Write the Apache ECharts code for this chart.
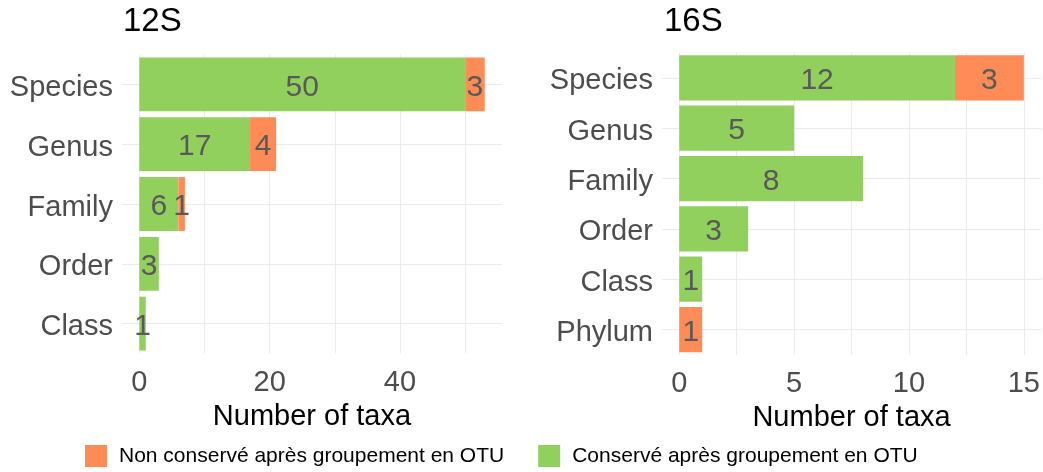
<!DOCTYPE html>
<html>
<head>
<meta charset="utf-8">
<script src="https://cdn.jsdelivr.net/npm/echarts@6/dist/echarts.min.js"></script>
<style>
  html, body { margin: 0; padding: 0; background: #fff; }
  #main { width: 1043px; height: 472px; }
</style>
</head>
<body>
<div id="main"></div>
<script>
// data
const taxa12S = ['Species', 'Genus', 'Family', 'Order', 'Class'];
const kept12S = [50, 17, 6, 3, 1];
const lost12S = [3, 4, 1, 0, 0];

const taxa16S = ['Species', 'Genus', 'Family', 'Order', 'Class', 'Phylum'];
const kept16S = [12, 5, 8, 3, 1, 0];
const lost16S = [3, 0, 0, 0, 0, 1];

const grid12STicks = [0, 10, 20, 30, 40, 50];
const label12STicks = [0, 20, 40];
const grid16STicks = [0, 2.5, 5, 7.5, 10, 12.5, 15];
const label16STicks = [0, 5, 10, 15];

const keptName = 'Conservé après groupement en OTU';
const lostName = 'Non conservé après groupement en OTU';

const GREEN = '#92D05E';
const ORANGE = '#FF8C57';
const FONT = 'Liberation Sans, Arial, sans-serif';
const gridColor = '#ebebeb';

const chart = echarts.init(document.getElementById('main'));

function xAxisFor(gridIndex, min, max, gridTicks, labelTicks) {
    return {
        type: 'value',
        gridIndex: gridIndex,
        min: min,
        max: max,
        name: 'Number of taxa',
        nameLocation: 'middle',
        nameGap: 44,
        nameTextStyle: { fontFamily: FONT, fontSize: 29, color: '#000' },
        axisLine: { show: false },
        axisTick: { show: false, customValues: gridTicks },
        axisLabel: {
            customValues: labelTicks,
            fontFamily: FONT, fontSize: 29, color: '#4d4d4d', margin: 15
        },
        splitLine: { show: true, lineStyle: { color: gridColor, width: 1 } }
    };
}

function yAxisFor(gridIndex, cats) {
    return {
        type: 'category',
        gridIndex: gridIndex,
        data: cats,
        inverse: true,
        axisLine: { show: false },
        axisTick: { show: false, alignWithLabel: true },
        axisLabel: {
            margin: 9,
            formatter: v => '{c|' + v + '}',
            rich: {
                c: { fontFamily: FONT, fontSize: 29, color: '#4d4d4d', padding: [7, 0, 0, 0] }
            }
        },
        splitLine: { show: true, alignWithLabel: true, lineStyle: { color: gridColor, width: 1 } }
    };
}

const barLabel = {
    show: true,
    position: 'inside',
    offset: [0, 3],
    fontFamily: FONT,
    fontSize: 30,
    color: '#595959',
    formatter: p => (p.value ? p.value : '')
};

function barSeries(name, data, idx, color, stack) {
    return {
        name: name,
        type: 'bar',
        xAxisIndex: idx,
        yAxisIndex: idx,
        stack: stack,
        data: data,
        barWidth: '90%',
        itemStyle: { color: color },
        label: barLabel,
        emphasis: { disabled: true },
        animation: false
    };
}

const option = {
    animation: false,
    title: [
        { text: '12S', left: 123, top: 5, padding: 0,
          textStyle: { fontFamily: FONT, fontSize: 33, fontWeight: 'normal', color: '#000' } },
        { text: '16S', left: 664, top: 5, padding: 0,
          textStyle: { fontFamily: FONT, fontSize: 33, fontWeight: 'normal', color: '#000' } }
    ],
    legend: {
        data: [lostName, keptName],
        left: 85,
        top: 445,
        padding: 0,
        itemWidth: 22,
        itemHeight: 22,
        itemGap: 34,
        icon: 'rect',
        textStyle: { fontFamily: FONT, fontSize: 21, color: '#000', padding: [2, 0, 0, 7] }
    },
    grid: [
        { left: 122, top: 54.5, width: 380, height: 299 },
        { left: 662, top: 52.7, width: 380.5, height: 302 }
    ],
    xAxis: [
        xAxisFor(0, -2.65, 55.65, grid12STicks, label12STicks),
        xAxisFor(1, -0.75, 15.75, grid16STicks, label16STicks)
    ],
    yAxis: [
        yAxisFor(0, taxa12S),
        yAxisFor(1, taxa16S)
    ],
    series: [
        barSeries(keptName, kept12S, 0, GREEN, 's12'),
        barSeries(lostName, lost12S, 0, ORANGE, 's12'),
        barSeries(keptName, kept16S, 1, GREEN, 's16'),
        barSeries(lostName, lost16S, 1, ORANGE, 's16')
    ]
};

chart.setOption(option);
</script>
</body>
</html>
